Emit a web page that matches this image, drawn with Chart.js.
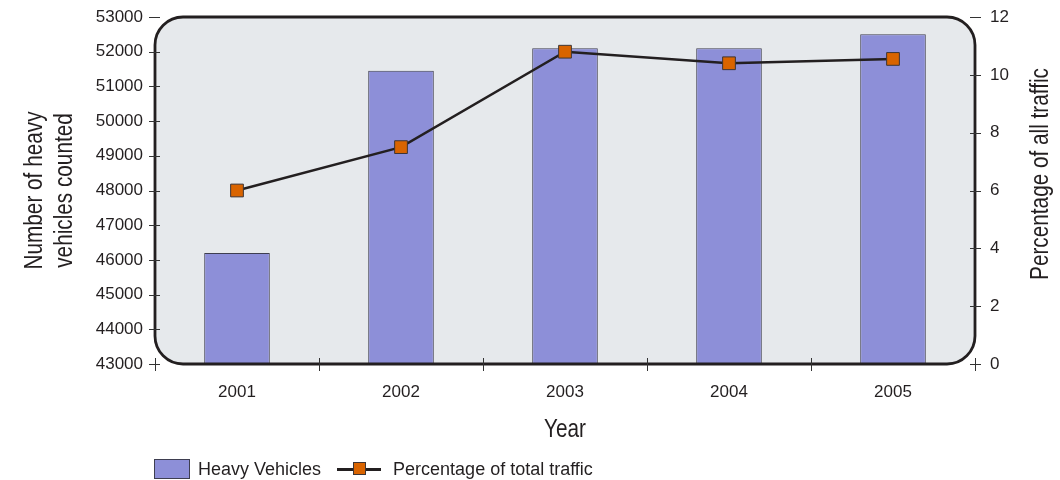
<!DOCTYPE html>
<html>
<head>
<meta charset="utf-8">
<script src="https://cdn.jsdelivr.net/npm/chart.js@4/dist/chart.umd.min.js"></script>
<style>
  html, body { margin: 0; padding: 0; background: #fff; }
  #wrap { position: relative; width: 1060px; height: 480px; }
  #legend {
    position: absolute; left: 154px; top: 459px; height: 20px;
    display: flex; align-items: center;
    font: 18px "Liberation Sans", Arial, sans-serif; color: #231f20;
  }
  .swatch { width: 34px; height: 18px; background: #8d8fd8; border: 1px solid #3e3e50; margin-right: 8px; }
  .lineKey { position: relative; width: 44px; height: 20px; margin: 0 12px 0 16px; }
  .lineKey::before { content: ""; position: absolute; left: 0; right: 0; top: 9px; height: 2.5px; background: #231f20; }
  .lineKey span { position: absolute; left: 16px; top: 3px; width: 11px; height: 11px; background: #d96400; border: 1px solid #3d3535; }
</style>
</head>
<body>
<div id="wrap">
  <canvas id="trafficChart" width="1060" height="480"></canvas>
  <div id="legend"></div>
</div>
<script>
const years = ["2001", "2002", "2003", "2004", "2005"];
const heavyVehicles = [46200, 51450, 52100, 52100, 52500];
const pctOfTraffic = [6.0, 7.5, 10.8, 10.4, 10.55];

const xTitle = "Year";
const yTitle = ["Number of heavy", "vehicles counted"];
const y1Title = "Percentage of all traffic";

const INK = "#231f20";
const TICK_FONT = { family: "'Liberation Sans', Arial, sans-serif", size: 17 };
const TITLE_FONT = "25px 'Liberation Sans', Arial, sans-serif";

function roundRectPath(ctx, x, y, w, h, r) {
  ctx.beginPath();
  ctx.moveTo(x + r, y);
  ctx.lineTo(x + w - r, y);
  ctx.arcTo(x + w, y, x + w, y + r, r);
  ctx.lineTo(x + w, y + h - r);
  ctx.arcTo(x + w, y + h, x + w - r, y + h, r);
  ctx.lineTo(x + r, y + h);
  ctx.arcTo(x, y + h, x, y + h - r, r);
  ctx.lineTo(x, y + r);
  ctx.arcTo(x, y, x + r, y, r);
  ctx.closePath();
}

// condensed title text: squeeze along the reading direction
function drawTitle(ctx, text, x, y, angle) {
  ctx.save();
  ctx.translate(x, y);
  ctx.rotate(angle);
  ctx.scale(0.83, 1);
  ctx.fillStyle = INK;
  ctx.font = TITLE_FONT;
  ctx.textAlign = "center";
  ctx.textBaseline = "middle";
  ctx.fillText(text, 0, 0);
  ctx.restore();
}

// fixed box sizes for the axes, no extra room for label overhang
function fixSize(w, h) {
  return s => {
    if (w) s.width = w;
    if (h) s.height = h;
    s.paddingTop = 0;
    s.paddingBottom = 0;
  };
}

// rounded grey panel behind the marks, black frame, cross ticks and titles on top
const panelPlugin = {
  id: "panel",
  beforeDatasetsDraw(chart) {
    const { ctx, chartArea: a } = chart;
    ctx.save();
    roundRectPath(ctx, a.left, a.top, a.right - a.left, a.bottom - a.top, 28);
    ctx.fillStyle = "#e6e9ec";
    ctx.fill();
    ctx.restore();
  },
  afterDatasetsDraw(chart) {
    const { ctx, chartArea: a, scales } = chart;
    ctx.save();
    roundRectPath(ctx, a.left, a.top, a.right - a.left, a.bottom - a.top, 28);
    ctx.lineWidth = 2.8;
    ctx.strokeStyle = INK;
    ctx.stroke();

    ctx.lineWidth = 1;
    ctx.strokeStyle = "#333";
    ctx.beginPath();
    scales.y.ticks.forEach(t => {
      const py = Math.round(scales.y.getPixelForValue(t.value)) + 0.5;
      ctx.moveTo(a.left - 6, py); ctx.lineTo(a.left + 5, py);
    });
    scales.y1.ticks.forEach(t => {
      const py = Math.round(scales.y1.getPixelForValue(t.value)) + 0.5;
      ctx.moveTo(a.right - 5, py); ctx.lineTo(a.right + 6, py);
    });
    const step = (a.right - a.left) / years.length;
    for (let i = 0; i <= years.length; i++) {
      const px = Math.round(a.left + i * step) + 0.5;
      ctx.moveTo(px, a.bottom - 6); ctx.lineTo(px, a.bottom + 7);
    }
    ctx.stroke();
    ctx.restore();

    const midY = (a.top + a.bottom) / 2;
    drawTitle(ctx, xTitle, (a.left + a.right) / 2, 430, 0);
    drawTitle(ctx, yTitle[0], 35, midY, -Math.PI / 2);
    drawTitle(ctx, yTitle[1], 65, midY, -Math.PI / 2);
    drawTitle(ctx, y1Title, 1041, 174, -Math.PI / 2);
  }
};

const chart = new Chart(document.getElementById("trafficChart"), {
  type: "bar",
  data: {
    labels: years,
    datasets: [
      {
        type: "line",
        label: "Percentage of total traffic",
        data: pctOfTraffic,
        yAxisID: "y1",
        order: 0,
        borderColor: INK,
        borderWidth: 2.5,
        tension: 0,
        pointStyle: "rect",
        pointRadius: 9,
        pointHoverRadius: 9,
        pointBackgroundColor: "#d96400",
        pointBorderColor: "#3d3535",
        pointBorderWidth: 1
      },
      {
        label: "Heavy Vehicles",
        data: heavyVehicles,
        yAxisID: "y",
        order: 1,
        backgroundColor: "#8d8fd8",
        borderColor: "#3e3e50",
        borderWidth: 1,
        barPercentage: 0.4,
        categoryPercentage: 1
      }
    ]
  },
  options: {
    responsive: false,
    animation: false,
    events: [],
    layout: { padding: { top: 17, bottom: 34, left: 0, right: 0 } },
    plugins: { legend: { display: false }, tooltip: { enabled: false } },
    scales: {
      x: {
        grid: { display: false, drawTicks: false },
        border: { display: false },
        ticks: { color: INK, font: TICK_FONT, padding: 18 },
        afterFit: fixSize(0, 82)
      },
      y: {
        position: "left",
        min: 43000, max: 53000,
        grid: { display: false, drawTicks: false },
        border: { display: false },
        ticks: { stepSize: 1000, color: INK, font: TICK_FONT, padding: 12, callback: v => String(v) },
        afterFit: fixSize(155, 0)
      },
      y1: {
        position: "right",
        min: 0, max: 12,
        grid: { display: false, drawTicks: false },
        border: { display: false },
        ticks: { stepSize: 2, color: INK, font: TICK_FONT, padding: 15 },
        afterFit: fixSize(85, 0)
      }
    }
  },
  plugins: [panelPlugin]
});

// legend built from the dataset labels
const legend = document.getElementById("legend");
const barSet = chart.data.datasets[1];
const lineSet = chart.data.datasets[0];
legend.innerHTML =
  `<div class="swatch"></div><div>${barSet.label}</div>` +
  `<div class="lineKey"><span></span></div><div>${lineSet.label}</div>`;
</script>
</body>
</html>
